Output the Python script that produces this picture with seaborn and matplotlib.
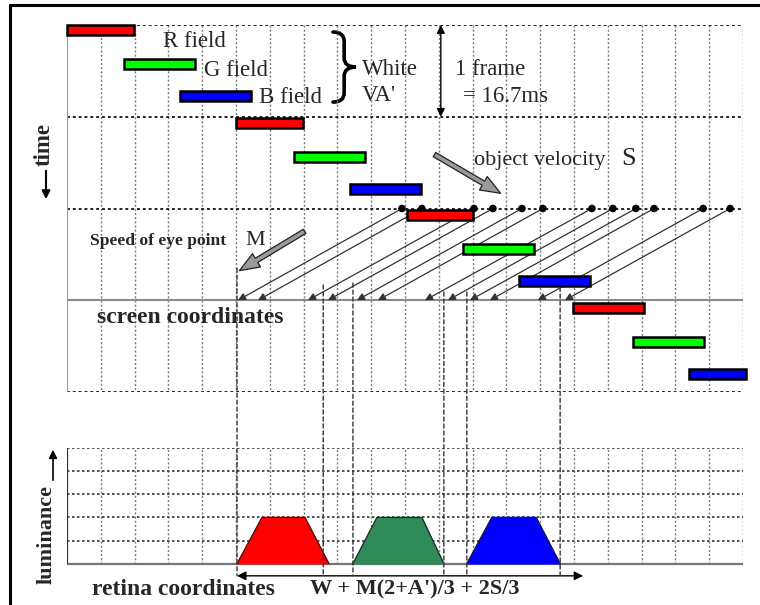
#!/usr/bin/env python3
"""
Field-sequential colour display: eye tracking of a moving white object
(R, G, B sub-fields) and the resulting luminance on the retina.
"""

import matplotlib
matplotlib.use("Agg")
import matplotlib.pyplot as plt
import seaborn as sns
from matplotlib.patches import ConnectionPatch, FancyArrowPatch, PathPatch
from matplotlib.path import Path
from matplotlib.lines import Line2D

OUTPUT_FILENAME = "out.png"

# --- data (x in grid columns, time in sub-field units, 3 fields = 1 frame) ---
field_colors = ["#ff0000", "#00ff00", "#0000ff"] * 4
field_start = [0.0, 1.69, 3.34, 5.0, 6.72, 8.37, 10.06, 11.72, 13.37, 14.97, 16.75, 18.4]
field_width = [1.98, 2.1, 2.1, 1.98, 2.1, 2.1, 1.95, 2.1, 2.1, 2.1, 2.1, 1.7]
field_time = [0.0, 1.1, 2.15, 3.05, 4.15, 5.2, 6.05, 7.15, 8.2, 9.1, 10.2, 11.25]
frame_lines = [0, 3, 6, 12]
screen_time = 9

# eye tracking lines: start on the frame line, end on the screen line
eye_start_x = [9.91, 10.50, 12.04, 12.60, 13.46, 14.08, 15.53, 16.15, 16.83, 17.37, 18.82, 19.62]
eye_end_x = [5.06, 5.65, 7.13, 7.72, 8.58, 9.20, 10.59, 11.27, 11.92, 12.51, 13.93, 14.73]

# projection lines from screen to retina
proj_x = [5.03, 7.58, 8.46, 11.15, 11.83, 14.59]
proj_start = [7.95, 8.5, 8.44, 8.73, 8.73, 8.57]

# perceived luminance on the retina
lum_base_left = [5.03, 8.46, 11.83]
lum_top_left = [5.77, 9.17, 12.57]
lum_top_right = [7.04, 10.50, 13.88]
lum_base_right = [7.75, 11.15, 14.59]
lum_level = [2, 2, 2]
lum_colors = ["#ff0000", "#2e8b57", "#0000ff"]

retina_span = [5.03, 15.27]

SERIF = ["Liberation Serif", "DejaVu Serif"]


def brace(ax, x0, xm, x1, y0, y1):
    ym = (y0 + y1) / 2
    d = 0.3
    verts = [
        (x0, y0), (xm, y0), (xm, y0 + d),
        (xm, ym - d),
        (xm, ym), (x1, ym),
        (xm, ym), (xm, ym + d),
        (xm, y1 - d),
        (xm, y1), (x0, y1),
    ]
    codes = [Path.MOVETO, Path.CURVE3, Path.CURVE3, Path.LINETO,
             Path.CURVE3, Path.CURVE3, Path.CURVE3, Path.CURVE3,
             Path.LINETO, Path.CURVE3, Path.CURVE3]
    ax.add_patch(PathPatch(Path(verts, codes), fill=False, lw=2.6,
                           edgecolor="black", capstyle="round"))


def main():
    sns.set_theme(style="white")
    plt.rcParams["font.family"] = SERIF

    fig = plt.figure(figsize=(7.6, 6.05), dpi=100)
    W, H = 760, 605

    ax_top = fig.add_axes([67 / W, 1 - 392 / H, 676 / W, 367 / H])
    ax_bot = fig.add_axes([67 / W, 1 - 580 / H, 676 / W, 132 / H])
    for ax in (ax_top, ax_bot):
        ax.set_axis_off()
        ax.set_xlim(0, 20)
    ax_top.set_ylim(12, 0)
    ax_bot.set_ylim(-0.7, 5)

    dots = (0, (1.5, 1.5))

    # --- top panel grid ---
    ax_top.vlines(range(1, 21), 0, 12, colors="#7a7a7a", linestyles=dots, lw=1)
    ax_top.hlines(frame_lines, 0, 20, colors="#222222", linestyles=dots, lw=1.4)
    ax_top.hlines(screen_time, 0, 20, colors="#8a8a8a", lw=1.5)
    ax_top.vlines(0, 0, 12, colors="#9a9a9a", lw=1.6)

    # eye tracking lines + dots
    for xs, xe in zip(eye_start_x, eye_end_x):
        ax_top.annotate("", xy=(xe, screen_time), xytext=(xs, 6),
                        arrowprops=dict(arrowstyle="-|>", color="#333333", lw=0.9,
                                        mutation_scale=11, shrinkA=0, shrinkB=0),
                        zorder=2)
    sns.scatterplot(x=eye_start_x, y=[6] * len(eye_start_x), ax=ax_top,
                    color="black", s=30, edgecolor="none", zorder=3, legend=False)

    # R/G/B sub-fields
    ax_top.barh([t + 0.165 for t in field_time], field_width, left=field_start,
                height=0.33, color=field_colors, edgecolor="black", lw=1.8,
                zorder=4, clip_on=False)

    # frame arrow
    ax_top.annotate("", xy=(11.06, 0), xytext=(11.06, 3),
                    arrowprops=dict(arrowstyle="<|-|>", color="black", lw=1,
                                    mutation_scale=12, shrinkA=0, shrinkB=0))

    # velocity arrows
    for tail, tip in [((10.80, 4.19), (12.90, 5.55)), ((7.10, 6.70), (5.03, 8.08))]:
        ax_top.add_patch(FancyArrowPatch(
            tail, tip, arrowstyle="simple,head_length=0.9,head_width=0.7,tail_width=0.22",
            mutation_scale=16, facecolor="#9a9a9a", edgecolor="#222222", lw=0.9, zorder=5))

    brace(ax_top, 7.87, 8.2, 8.55, 0.23, 2.52)

    # labels top panel
    ax_top.text(2.84, 0.72, "R field", fontsize=16.5, va="baseline")
    ax_top.text(4.05, 1.67, "G field", fontsize=16.5, va="baseline")
    ax_top.text(5.68, 2.55, "B field", fontsize=16.5, va="baseline")
    ax_top.text(8.73, 1.63, "White", fontsize=16.5, va="baseline")
    ax_top.text(8.73, 2.49, "VA'", fontsize=16.5, va="baseline")
    ax_top.text(11.48, 1.63, "1 frame", fontsize=16.5, va="baseline")
    ax_top.text(11.72, 2.52, "= 16.7ms", fontsize=16.5, va="baseline")
    ax_top.text(12.04, 4.58, "object velocity", fontsize=16, va="baseline")
    ax_top.text(16.39, 4.58, "S", fontsize=19, va="baseline")
    ax_top.text(0.68, 7.19, "Speed of eye point", fontsize=12.6, va="baseline",
                fontweight="bold")
    ax_top.text(5.27, 7.19, "M", fontsize=16, va="baseline")
    ax_top.text(0.89, 9.75, "screen coordinates", fontsize=17, va="baseline",
                fontweight="bold")

    # --- bottom panel grid ---
    ax_bot.vlines(range(1, 21), 0, 5, colors="#7a7a7a", linestyles=dots, lw=1)
    ax_bot.hlines([1, 2, 3, 4, 5], 0, 20, colors="#333333", linestyles=dots, lw=1.2)
    ax_bot.hlines(0, 0, 20, colors="#777777", lw=1.6)
    ax_bot.vlines(0, 0, 5, colors="#333333", lw=1.6)

    for bl, tl, tr, br, lv, c in zip(lum_base_left, lum_top_left, lum_top_right,
                                     lum_base_right, lum_level, lum_colors):
        ax_bot.fill([bl, tl, tr, br], [0, lv, lv, 0], color=c, zorder=3)
        ax_bot.plot([bl, tl, tr, br], [0, lv, lv, 0], color="#222222", lw=0.8, zorder=4)

    ax_bot.annotate("", xy=(retina_span[0], -0.52), xytext=(retina_span[1], -0.52),
                    arrowprops=dict(arrowstyle="<|-|>", color="black", lw=1,
                                    mutation_scale=13, shrinkA=0, shrinkB=0),
                    annotation_clip=False)
    ax_bot.text(0.74, -1.34, "retina coordinates", fontsize=17, va="baseline",
                fontweight="bold", clip_on=False)
    ax_bot.text(7.19, -1.34, "W + M(2+A')/3 + 2S/3", fontsize=16, va="baseline",
                fontweight="bold", clip_on=False)

    # projection lines screen -> retina
    for x, y0 in zip(proj_x, proj_start):
        con = ConnectionPatch(xyA=(x, y0), coordsA=ax_top.transData,
                              xyB=(x, -0.52), coordsB=ax_bot.transData,
                              color="#333333", lw=1, linestyle=(0, (3, 2)))
        fig.add_artist(con)

    # side axis labels
    fig.text(44 / W, 1 - 145 / H, "time", rotation=90, fontsize=16.5,
             fontweight="bold", ha="center", va="center")
    fig.add_artist(FancyArrowPatch((46 / W, 1 - 168 / H), (46 / W, 1 - 202 / H),
                                   transform=fig.transFigure, arrowstyle="-|>",
                                   mutation_scale=12, color="black", lw=1.5))
    fig.text(47 / W, 1 - 534 / H, "luminance", rotation=90, fontsize=16,
             fontweight="bold", ha="center", va="center")
    fig.add_artist(FancyArrowPatch((53 / W, 1 - 483 / H), (53 / W, 1 - 447 / H),
                                   transform=fig.transFigure, arrowstyle="-|>",
                                   mutation_scale=12, color="black", lw=1.2))

    # outer frame (top and left edges visible)
    fig.add_artist(Line2D([10 / W, 1], [1 - 5 / H] * 2, color="black", lw=2.2,
                          transform=fig.transFigure))
    fig.add_artist(Line2D([10 / W] * 2, [0, 1 - 5 / H], color="black", lw=2.2,
                          transform=fig.transFigure))

    fig.savefig(OUTPUT_FILENAME, dpi=100, facecolor="white")


if __name__ == "__main__":
    main()
